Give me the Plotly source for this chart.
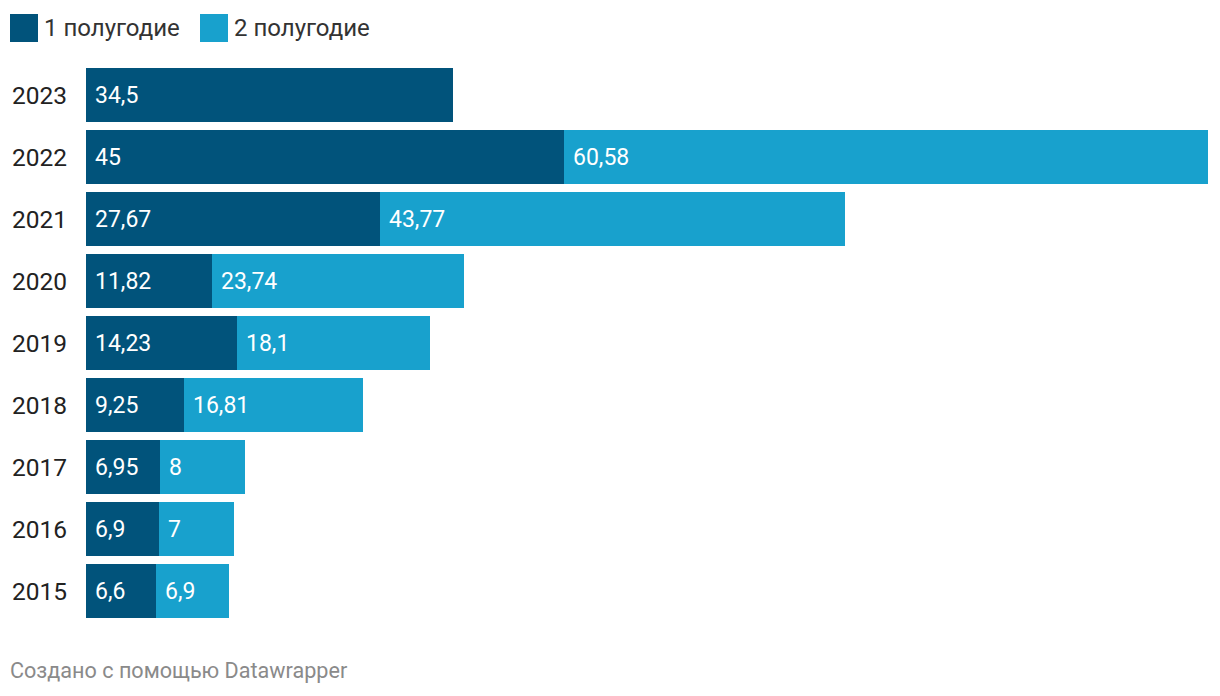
import plotly.graph_objects as go

years = ["2015", "2016", "2017", "2018", "2019", "2020", "2021", "2022", "2023"]
h1 = [6.6, 6.9, 6.95, 9.25, 14.23, 11.82, 27.67, 45, 34.5]
h2 = [6.9, 7, 8, 16.81, 18.1, 23.74, 43.77, 60.58, None]
series_names = ["1 полугодие", "2 полугодие"]
colors = ["#01537b", "#18a1cd"]

OFF = 8  # page body margin
W, H = 1220 - 2 * OFF, 696 - 2 * OFF
L, R, T, B = 86 - OFF, 1220 - 1208 - OFF, 64 - OFF, 696 - 622 - OFF
pw, ph = W - L - R, H - T - B

def fmt(v):
    return ("%g" % v).replace(".", ",")

fig = go.Figure()
fig.add_trace(go.Bar(y=years, x=h1, orientation="h", marker=dict(color=colors[0], line=dict(width=0)),
                     name=series_names[0], hoverinfo="x+y"))
fig.add_trace(go.Bar(y=years, x=[v if v is not None else 0 for v in h2], orientation="h",
                     marker=dict(color=colors[1], line=dict(width=0)), name=series_names[1], hoverinfo="x+y"))

annotations = []
for i, (a, b) in enumerate(zip(h1, h2)):
    annotations.append(dict(x=0, y=i, xref="x", yref="y", text=fmt(a), showarrow=False,
                            xanchor="left", xshift=7, font=dict(color="white", size=23, family="Roboto")))
    if b is not None:
        annotations.append(dict(x=a, y=i, xref="x", yref="y", text=fmt(b), showarrow=False,
                                xanchor="left", xshift=7, font=dict(color="white", size=23, family="Roboto")))

def px_x(p):
    return (p - OFF - L) / pw

def px_y(p):
    return (H - B - (p - OFF)) / ph

shapes = []
leg_x = [10, 200]
for i, name in enumerate(series_names):
    x0 = leg_x[i]
    shapes.append(dict(type="rect", xref="paper", yref="paper", x0=px_x(x0), x1=px_x(x0 + 28),
                       y0=px_y(42), y1=px_y(14), fillcolor=colors[i], line=dict(width=0)))
    annotations.append(dict(x=px_x(x0 + 32), y=px_y(28), xref="paper", yref="paper", text=name,
                            showarrow=False, xanchor="left", yanchor="middle",
                            font=dict(color="#333333", size=24, family="Roboto")))

annotations.append(dict(x=px_x(8), y=px_y(670), xref="paper", yref="paper",
                        text="Создано с помощью Datawrapper", showarrow=False, xanchor="left",
                        yanchor="middle", font=dict(color="#8a8a8a", size=21.6, family="Roboto")))

total_max = max(a + (b or 0) for a, b in zip(h1, h2))

fig.update_layout(
    width=W, height=H, barmode="stack", bargap=8 / 62,
    margin=dict(l=L, r=R, t=T, b=B, autoexpand=False),
    paper_bgcolor="white", plot_bgcolor="white", showlegend=False,
    font=dict(family="Roboto", color="#333333"),
    xaxis=dict(range=[0, total_max], visible=False, fixedrange=True),
    yaxis=dict(type="category", categoryorder="array", categoryarray=years, showgrid=False,
               range=[-0.5, len(years) - 0.5],
               zeroline=False, showline=False, ticks="", ticklabelstandoff=18,
               tickfont=dict(size=24.5, color="#222222", family="Roboto"), fixedrange=True),
    annotations=annotations, shapes=shapes,
)

fig.write_html("out.html")
